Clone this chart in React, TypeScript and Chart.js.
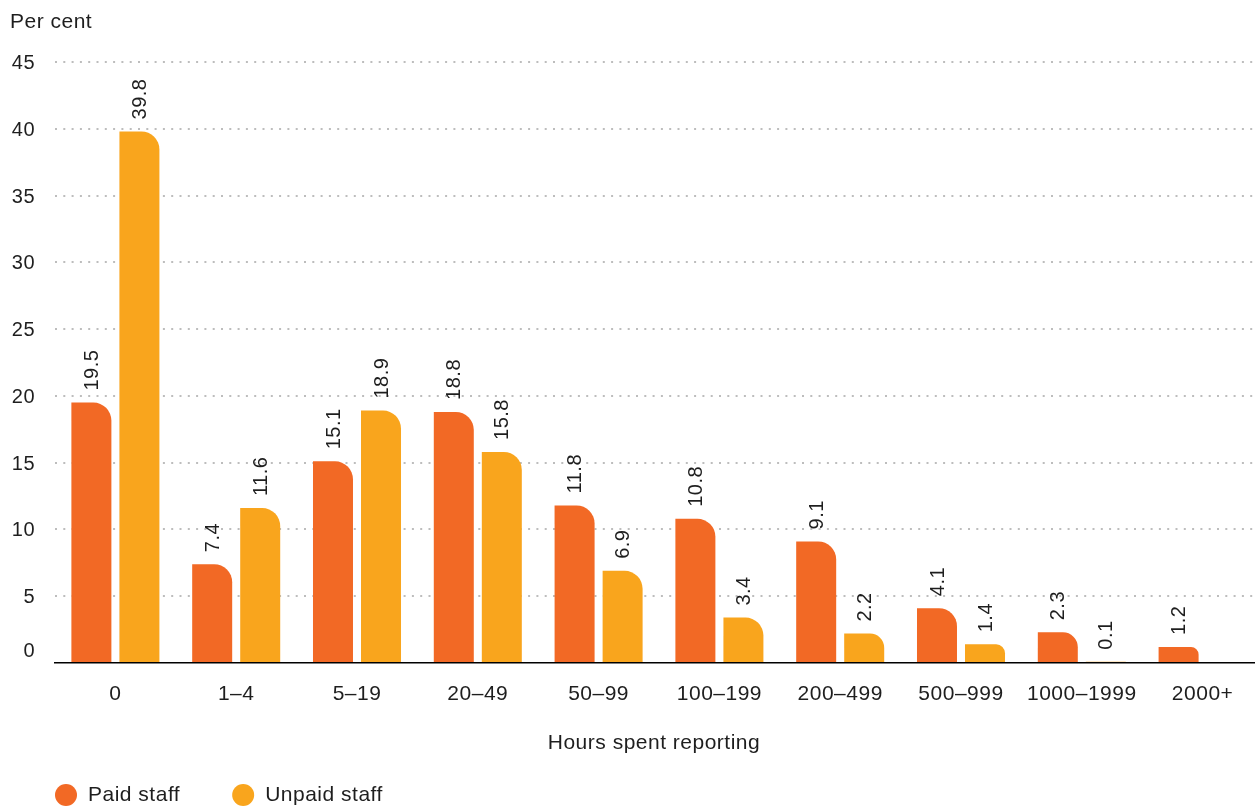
import React, { useEffect, useRef } from "react";
import { Chart, registerables } from "chart.js";

Chart.register(...registerables);

const categories = ["0", "1–4", "5–19", "20–49", "50–99", "100–199", "200–499", "500–999", "1000–1999", "2000+"];
const paidStaff: (number | null)[] = [19.5, 7.4, 15.1, 18.8, 11.8, 10.8, 9.1, 4.1, 2.3, 1.2];
const unpaidStaff: (number | null)[] = [39.8, 11.6, 18.9, 15.8, 6.9, 3.4, 2.2, 1.4, 0.1, null];
const seriesNames = ["Paid staff", "Unpaid staff"];
const seriesColors = ["#F26925", "#F9A51D"];
const yTickValues = [0, 5, 10, 15, 20, 25, 30, 35, 40, 45];
const yAxisTitle = "Per cent";
const xAxisTitle = "Hours spent reporting";

const FONT = "'Liberation Sans', Arial, Helvetica, sans-serif";
const TEXT = "#1e1e1e";
const SPACING = "0.5px";

const customDraw = {
  id: "customDraw",
  beforeDraw(chart: any) {
    try {
      chart.ctx.letterSpacing = SPACING;
    } catch (e) {}
  },
  afterDatasetsDraw(chart: any) {
    const ctx = chart.ctx;
    ctx.save();
    ctx.fillStyle = TEXT;
    ctx.font = `20px ${FONT}`;
    chart.data.datasets.forEach((ds: any, di: number) => {
      const meta = chart.getDatasetMeta(di);
      meta.data.forEach((el: any, i: number) => {
        const v = ds.data[i];
        if (v === null || v === undefined) return;
        ctx.save();
        ctx.translate(el.x + 1, el.y - 12);
        ctx.rotate(-Math.PI / 2);
        ctx.textAlign = "left";
        ctx.textBaseline = "middle";
        ctx.fillText(Number(v).toFixed(1), 0, 0);
        ctx.restore();
      });
    });
    ctx.restore();
  },
  afterDraw(chart: any) {
    const ctx = chart.ctx;
    const y = chart.scales.y;
    const area = chart.chartArea;
    ctx.save();
    ctx.fillStyle = TEXT;
    ctx.font = `20px ${FONT}`;
    // y tick labels
    ctx.textAlign = "right";
    ctx.textBaseline = "middle";
    yTickValues.forEach((v) => {
      const py = y.getPixelForValue(v) + (v === 0 ? -12 : 1.5);
      ctx.fillText(String(v), 35, py);
    });
    ctx.font = `21px ${FONT}`;
    // y axis title
    ctx.textAlign = "left";
    ctx.fillText(yAxisTitle, 10, 22);
    // x axis title
    ctx.textAlign = "center";
    ctx.fillText(xAxisTitle, (area.left + area.right) / 2 - 5, 743);
    // legend
    const legendY = 795;
    let lx = 55;
    seriesNames.forEach((name, i) => {
      ctx.beginPath();
      ctx.fillStyle = seriesColors[i];
      ctx.arc(lx + 11, legendY, 11, 0, Math.PI * 2);
      ctx.fill();
      ctx.fillStyle = TEXT;
      ctx.textAlign = "left";
      ctx.fillText(name, lx + 33, legendY);
      lx += 33 + ctx.measureText(name).width + 52;
    });
    ctx.restore();
  },
};

export default function App() {
  const ref = useRef<HTMLCanvasElement | null>(null);
  useEffect(() => {
    if (!ref.current) return;
    const chart = new Chart(ref.current, {
      type: "bar",
      data: {
        labels: categories,
        datasets: [
          {
            label: seriesNames[0],
            data: paidStaff,
            backgroundColor: seriesColors[0],
            borderWidth: 0,
            borderRadius: { topRight: 18, topLeft: 0, bottomLeft: 0, bottomRight: 0 },
            borderSkipped: false,
            categoryPercentage: 0.795,
            barPercentage: 0.833,
          },
          {
            label: seriesNames[1],
            data: unpaidStaff,
            backgroundColor: seriesColors[1],
            borderWidth: 0,
            borderRadius: { topRight: 18, topLeft: 0, bottomLeft: 0, bottomRight: 0 },
            borderSkipped: false,
            categoryPercentage: 0.795,
            barPercentage: 0.833,
          },
        ] as any,
      },
      plugins: [customDraw],
      options: {
        animation: false,
        responsive: false,
        maintainAspectRatio: false,
        layout: { padding: { top: 62, right: 2, left: 0, bottom: 0 } },
        plugins: {
          legend: { display: false },
          tooltip: { enabled: false },
          title: { display: false },
        },
        scales: {
          x: {
            grid: { display: false, drawTicks: false },
            border: { display: true, color: "#000000", width: 1.5 },
            ticks: {
              color: TEXT,
              font: { family: FONT, size: 21 },
              padding: 19,
              maxRotation: 0,
              autoSkip: false,
            },
            afterFit: (s: any) => {
              s.height = 143;
            },
          },
          y: {
            min: 0,
            max: 45,
            ticks: { display: false, stepSize: 5 },
            grid: {
              drawTicks: false,
              color: (c: any) => (c.tick && c.tick.value === 0 ? "rgba(0,0,0,0)" : "#bdbdbd"),
              lineWidth: 2,
            },
            border: { display: false, dash: [2, 6.3] },
            afterFit: (s: any) => {
              s.width = 55;
            },
          },
        },
      } as any,
    });
    return () => chart.destroy();
  }, []);
  return (
    <div style={{ position: "fixed", left: 0, top: 0, width: 1255, height: 806, overflow: "hidden", background: "#fff" }}>
      <canvas ref={ref} width={1265} height={806} style={{ display: "block", width: 1265, height: 806 }} />
    </div>
  );
}
